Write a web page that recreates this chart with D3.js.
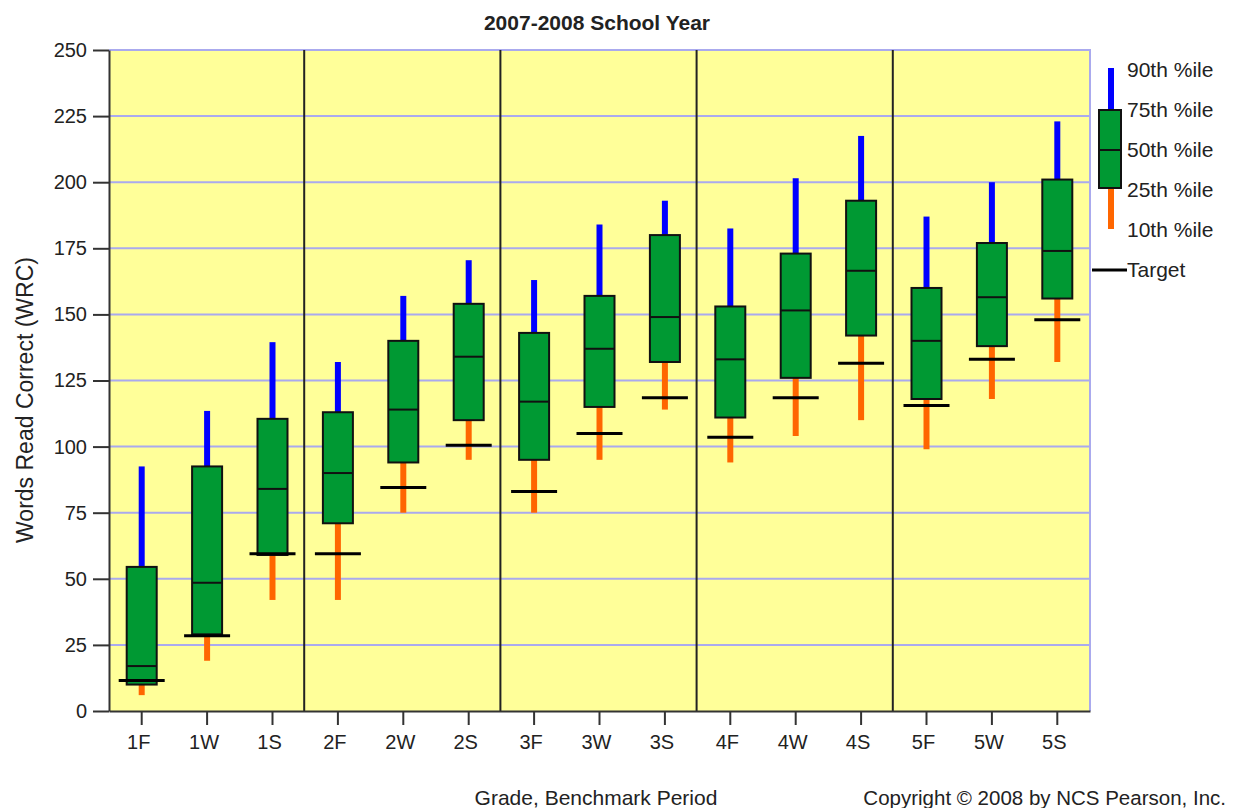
<!DOCTYPE html>
<html>
<head>
<meta charset="utf-8">
<script src="https://cdn.jsdelivr.net/npm/d3@7"></script>
<style>
  body { margin: 0; background: #fff; }
  svg text { font-family: "Liberation Sans", Arial, sans-serif; fill: #222; }
</style>
</head>
<body>
<svg id="chart" width="1233" height="808"></svg>
<script>
// benchmark periods per grade
const periods = ["1F","1W","1S","2F","2W","2S","3F","3W","3S","4F","4W","4S","5F","5W","5S"];
const p10 = [6, 19, 42, 42, 75, 95, 75, 95, 114, 94, 104, 110, 99, 118, 132];
const p25 = [10, 29, 59, 71, 94, 110, 95, 115, 132, 111, 126, 142, 118, 138, 156];
const p50 = [17, 48.5, 84, 90, 114, 134, 117, 137, 149, 133, 151.5, 166.5, 140, 156.5, 174];
const p75 = [54.5, 92.5, 110.5, 113, 140, 154, 143, 157, 180, 153, 173, 193, 160, 177, 201];
const p90 = [92.5, 113.5, 139.5, 132, 157, 170.5, 163, 184, 193, 182.5, 201.5, 217.5, 187, 200, 223];
const target = [11.5, 28.5, 59.5, 59.5, 84.5, 100.5, 83, 105, 118.5, 103.5, 118.5, 131.5, 115.5, 133, 148];
const yTicks = [0, 25, 50, 75, 100, 125, 150, 175, 200, 225, 250];
const legendLabels = ["90th %ile", "75th %ile", "50th %ile", "25th %ile", "10th %ile", "Target"];

const plot = {left: 109, right: 1090, top: 50, bottom: 711};
const svg = d3.select("#chart");

let x = d3.scaleBand().domain(periods).range([plot.left, plot.right]);
let y = d3.scaleLinear().domain([0, 250]).range([plot.bottom, plot.top]);

// plot background
svg.append("rect")
    .attr("x", plot.left).attr("y", plot.top)
    .attr("width", plot.right - plot.left).attr("height", plot.bottom - plot.top)
    .attr("fill", "#ffff99");

// grid lines
svg.append("g").selectAll("line").data(yTicks.filter(d => d > 0)).enter().append("line")
    .attr("x1", plot.left).attr("x2", plot.right)
    .attr("y1", d => y(d)).attr("y2", d => y(d))
    .attr("stroke", "#aaaaee").attr("stroke-width", 2);

// right border
svg.append("line")
    .attr("x1", plot.right).attr("x2", plot.right)
    .attr("y1", plot.top - 1).attr("y2", plot.bottom)
    .attr("stroke", "#aaaaee").attr("stroke-width", 2);

// grade separators
let seps = [2, 5, 8, 11];
svg.append("g").selectAll("line").data(seps).enter().append("line")
    .attr("x1", i => x(periods[i]) + x.bandwidth() - 1)
    .attr("x2", i => x(periods[i]) + x.bandwidth() - 1)
    .attr("y1", plot.top).attr("y2", plot.bottom)
    .attr("stroke", "#222").attr("stroke-width", 2);

// axes
let yAxis = d3.axisLeft(y).tickValues(yTicks).tickSize(16).tickSizeOuter(0).tickPadding(6);
let yAxisG = svg.append("g").attr("transform", "translate(" + plot.left + ",0)").call(yAxis);
let xAxis = d3.axisBottom(x).tickSize(14).tickSizeOuter(0).tickPadding(10);
let xAxisG = svg.append("g").attr("transform", "translate(0," + plot.bottom + ")").call(xAxis);

[yAxisG, xAxisG].forEach(function(g){
    g.select(".domain").attr("stroke", "#333").attr("stroke-width", 2);
    g.selectAll(".tick line").attr("stroke", "#333").attr("stroke-width", 2);
    g.selectAll(".tick text").attr("font-size", 20).attr("fill", "#222")
        .style("font-family", '"Liberation Sans", Arial, sans-serif');
});
xAxisG.selectAll(".tick text").attr("dx", -3);

let data = periods.map(function(p, i){
    return {p: p, p10: p10[i], p25: p25[i], p50: p50[i], p75: p75[i], p90: p90[i], target: target[i]};
});

let boxW = 30, whiskW = 6, targetW = 46;
let g = svg.append("g");
let groups = g.selectAll(".period").data(data).enter().append("g").attr("class", "period");
let cx = d => x(d.p) + x.bandwidth() / 2;

// upper whisker
groups.append("line")
    .attr("x1", cx).attr("x2", cx)
    .attr("y1", d => y(d.p90)).attr("y2", d => y(d.p75))
    .attr("stroke", "#0000ff").attr("stroke-width", whiskW);
// lower whisker
groups.append("line")
    .attr("x1", cx).attr("x2", cx)
    .attr("y1", d => y(d.p25)).attr("y2", d => y(d.p10))
    .attr("stroke", "#ff6600").attr("stroke-width", whiskW);
// box
groups.append("rect")
    .attr("x", d => cx(d) - boxW / 2).attr("width", boxW)
    .attr("y", d => y(d.p75)).attr("height", d => y(d.p25) - y(d.p75))
    .attr("fill", "#009933").attr("stroke", "#111").attr("stroke-width", 2);
// median
groups.append("line")
    .attr("x1", d => cx(d) - boxW / 2).attr("x2", d => cx(d) + boxW / 2)
    .attr("y1", d => y(d.p50)).attr("y2", d => y(d.p50))
    .attr("stroke", "#111").attr("stroke-width", 2);
// target
groups.append("line")
    .attr("x1", d => cx(d) - targetW / 2).attr("x2", d => cx(d) + targetW / 2)
    .attr("y1", d => y(d.target)).attr("y2", d => y(d.target))
    .attr("stroke", "#000").attr("stroke-width", 3);

// legend
let lg = svg.append("g");
let lx = 1111;
lg.append("line").attr("x1", lx).attr("x2", lx).attr("y1", 68).attr("y2", 110)
    .attr("stroke", "#0000ff").attr("stroke-width", whiskW);
lg.append("line").attr("x1", lx).attr("x2", lx).attr("y1", 188).attr("y2", 229)
    .attr("stroke", "#ff6600").attr("stroke-width", whiskW);
lg.append("rect").attr("x", 1099).attr("y", 110).attr("width", 22).attr("height", 78)
    .attr("fill", "#009933").attr("stroke", "#111").attr("stroke-width", 2);
lg.append("line").attr("x1", 1099).attr("x2", 1121).attr("y1", 150).attr("y2", 150)
    .attr("stroke", "#111").attr("stroke-width", 2);
lg.append("line").attr("x1", 1092).attr("x2", 1127).attr("y1", 270).attr("y2", 270)
    .attr("stroke", "#000").attr("stroke-width", 3);
lg.selectAll("text").data(legendLabels).enter().append("text")
    .attr("x", 1127).attr("y", (d, i) => 70 + i * 40)
    .attr("dy", "0.35em").attr("font-size", 21)
    .text(d => d);

// titles
svg.append("text").attr("x", 597).attr("y", 30).attr("text-anchor", "middle")
    .attr("font-size", 21).attr("font-weight", "bold").text("2007-2008 School Year");
svg.append("text").attr("transform", "translate(33,400) rotate(-90)")
    .attr("text-anchor", "middle").attr("font-size", 23).text("Words Read Correct (WRC)");
svg.append("text").attr("x", 596).attr("y", 805).attr("text-anchor", "middle")
    .attr("font-size", 21).text("Grade, Benchmark Period");
svg.append("text").attr("x", 1226).attr("y", 805).attr("text-anchor", "end")
    .attr("font-size", 20.5).text("Copyright \u00a9 2008 by NCS Pearson, Inc.");
</script>
</body>
</html>
